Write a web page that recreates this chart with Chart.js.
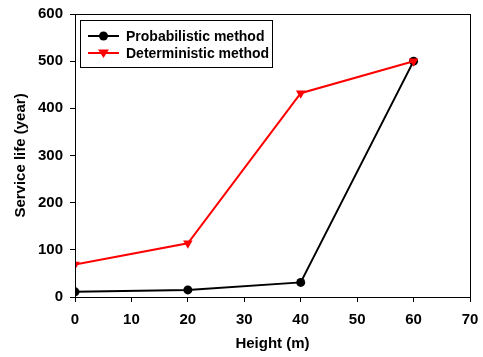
<!DOCTYPE html>
<html>
<head>
<meta charset="utf-8">
<script src="https://cdn.jsdelivr.net/npm/chart.js@4.4.0/dist/chart.umd.min.js"></script>
<style>
  html, body { margin: 0; padding: 0; background: #fff; }
  #wrap { width: 483px; height: 357px; }
</style>
</head>
<body>
<div id="wrap"><canvas id="grafica" width="483" height="357"></canvas></div>
<script>
// datos
const alturas = [0, 20, 40, 60];
const probabilistico = [11, 15, 31, 500];
const deterministico = [69, 114, 432, 500];
const xTicks = [0, 10, 20, 30, 40, 50, 60, 70];
const yTicks = [0, 100, 200, 300, 400, 500, 600];

const fuente = 'Liberation Sans, Arial, sans-serif';

// marco completo y leyenda dentro del area del grafico
const marcoLeyenda = {
  id: 'marcoLeyenda',
  afterDraw(chart) {
    const ctx = chart.ctx;
    const a = chart.chartArea;
    ctx.save();
    ctx.strokeStyle = '#000';
    ctx.lineWidth = 1;
    ctx.strokeRect(a.left + 0.5, a.top + 0.5, a.right - a.left, a.bottom - a.top);

    // caja de la leyenda
    ctx.strokeRect(80.5, 20.5, 192, 47);
    ctx.font = 'bold 14px ' + fuente;
    ctx.textBaseline = 'middle';
    chart.data.datasets.forEach((ds, i) => {
      const y = 36 + i * 17;
      ctx.strokeStyle = ds.borderColor;
      ctx.lineWidth = 2;
      ctx.beginPath();
      ctx.moveTo(88, y);
      ctx.lineTo(119, y);
      ctx.stroke();
      ctx.fillStyle = ds.backgroundColor;
      ctx.beginPath();
      if (ds.pointStyle === 'circle') {
        ctx.arc(103.5, y, 4.5, 0, Math.PI * 2);
      } else {
        ctx.moveTo(98, y - 3.5);
        ctx.lineTo(109, y - 3.5);
        ctx.lineTo(103.5, y + 5);
        ctx.closePath();
      }
      ctx.fill();
      ctx.fillStyle = '#000';
      ctx.fillText(ds.label, 126, y + 1);
    });
    ctx.restore();
  }
};

new Chart(document.getElementById('grafica'), {
  type: 'line',
  data: {
    datasets: [{
      label: 'Probabilistic method',
      data: alturas.map((x, i) => ({ x: x, y: probabilistico[i] })),
      borderColor: '#000',
      backgroundColor: '#000',
      borderWidth: 2,
      pointStyle: 'circle',
      pointRadius: 4.5,
      pointBorderWidth: 0,
      order: 1
    }, {
      label: 'Deterministic method',
      data: alturas.map((x, i) => ({ x: x, y: deterministico[i] })),
      borderColor: '#ff0000',
      backgroundColor: '#ff0000',
      borderWidth: 2,
      pointStyle: 'triangle',
      pointRotation: 180,
      pointRadius: 5.5,
      pointBorderWidth: 0,
      order: 0
    }]
  },
  options: {
    responsive: false,
    animation: false,
    layout: { padding: { left: 0, right: 13, top: 14, bottom: 0 } },
    plugins: {
      legend: { display: false },
      tooltip: { enabled: false }
    },
    scales: {
      x: {
        type: 'linear',
        min: 0,
        max: 70,
        afterBuildTicks: (s) => { s.ticks = xTicks.map(v => ({ value: v })); },
        afterFit: (s) => { s.height = 60; s.paddingLeft = 0; s.paddingRight = 0; },
        grid: { drawOnChartArea: false, drawTicks: true, tickLength: 5, color: '#000' },
        border: { display: true, color: '#000', width: 1 },
        ticks: { color: '#000', font: { family: fuente, size: 15, weight: 'bold' }, padding: 9, maxRotation: 0 },
        title: { display: true, text: 'Height (m)', color: '#000', font: { family: fuente, size: 15, weight: 'bold' }, padding: { top: 10 } }
      },
      y: {
        min: 0,
        max: 600,
        afterBuildTicks: (s) => { s.ticks = yTicks.map(v => ({ value: v })); },
        afterFit: (s) => { s.width = 75; s.paddingTop = 0; s.paddingBottom = 0; },
        grid: { drawOnChartArea: false, drawTicks: true, tickLength: 5, color: '#000' },
        border: { display: true, color: '#000', width: 1 },
        ticks: { color: '#000', font: { family: fuente, size: 15, weight: 'bold' }, padding: 7 },
        title: { display: true, text: 'Service life (year)', color: '#000', font: { family: fuente, size: 15, weight: 'bold' }, padding: { top: 12, bottom: 6 } }
      }
    }
  },
  plugins: [marcoLeyenda]
});
</script>
</body>
</html>
